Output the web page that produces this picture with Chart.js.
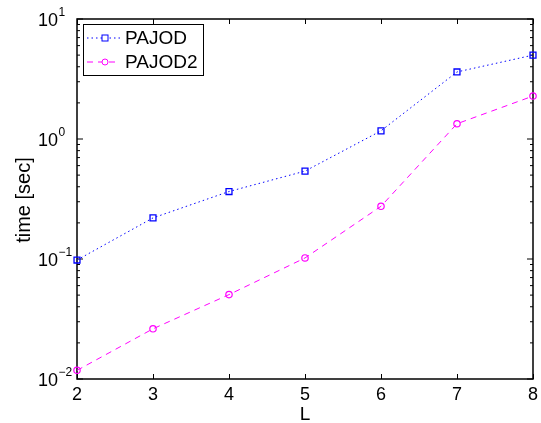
<!DOCTYPE html>
<html>
<head>
<meta charset="utf-8">
<script src="https://cdn.jsdelivr.net/npm/chart.js@4.4.1/dist/chart.umd.min.js"></script>
<style>
    body { margin: 0; background: #fff; }
    canvas { display: block; }
</style>
</head>
<body>
<canvas id="timeChart" width="541" height="423"></canvas>
<script>
// Data
const lValues = [2, 3, 4, 5, 6, 7, 8];
const pajodTimes = [0.098, 0.22, 0.365, 0.54, 1.17, 3.62, 5.0];
const pajod2Times = [0.0118, 0.0262, 0.0505, 0.102, 0.275, 1.34, 2.28];
const xTicks = [2, 3, 4, 5, 6, 7, 8];
const yTicks = [0.01, 0.1, 1, 10];
const yExponents = ['\u22122', '\u22121', '0', '1'];

const FONT = '"Liberation Sans", Arial, Helvetica, sans-serif';

// Box, inward ticks, tick labels and axis titles, MATLAB style
const axesPlugin = {
    id: 'matlabAxes',
    beforeDatasetsDraw(chart) {
        const ctx = chart.ctx;
        const a = chart.chartArea;
        const xs = chart.scales.x;
        const ys = chart.scales.y;
        ctx.save();
        ctx.strokeStyle = '#000';
        ctx.lineWidth = 1.5;
        ctx.strokeRect(a.left, a.top, a.right - a.left, a.bottom - a.top);

        ctx.lineWidth = 1;
        ctx.beginPath();
        xTicks.forEach(v => {
            const px = Math.round(xs.getPixelForValue(v)) + 0.5;
            ctx.moveTo(px, a.bottom); ctx.lineTo(px, a.bottom - 5);
            ctx.moveTo(px, a.top); ctx.lineTo(px, a.top + 5);
        });
        // major and minor ticks on the log axis
        for (let i = 0; i < yTicks.length; i++) {
            const py = ys.getPixelForValue(yTicks[i]);
            ctx.moveTo(a.left, py); ctx.lineTo(a.left + 6, py);
            ctx.moveTo(a.right, py); ctx.lineTo(a.right - 6, py);
            if (i < yTicks.length - 1) {
                for (let k = 2; k <= 9; k++) {
                    const pm = ys.getPixelForValue(yTicks[i] * k);
                    ctx.moveTo(a.left, pm); ctx.lineTo(a.left + 3, pm);
                    ctx.moveTo(a.right, pm); ctx.lineTo(a.right - 3, pm);
                }
            }
        }
        ctx.stroke();

        // tick labels
        ctx.fillStyle = '#000';
        ctx.font = '18px ' + FONT;
        ctx.textAlign = 'center';
        ctx.textBaseline = 'alphabetic';
        xTicks.forEach(v => {
            ctx.fillText(String(v), xs.getPixelForValue(v), a.bottom + 21);
        });
        yTicks.forEach((v, i) => {
            const py = ys.getPixelForValue(v);
            ctx.font = '18px ' + FONT;
            ctx.textAlign = 'left';
            ctx.fillText('10', 38, py + 7);
            ctx.font = '12px ' + FONT;
            ctx.fillText(yExponents[i], 58.5, py - 3);
        });

        // axis titles
        ctx.font = '19px ' + FONT;
        ctx.textAlign = 'center';
        ctx.fillText('L', (a.left + a.right) / 2, a.bottom + 41);
        ctx.save();
        ctx.translate(30, (a.top + a.bottom) / 2 + 1);
        ctx.rotate(-Math.PI / 2);
        ctx.font = '20px ' + FONT;
        ctx.fillText('time [sec]', 0, 0);
        ctx.restore();
        ctx.restore();
    },
    afterDatasetsDraw(chart) {
        // boxed legend in the upper left corner
        const ctx = chart.ctx;
        const bx = 83, by = 24, bw = 120, bh = 51;
        ctx.save();
        ctx.fillStyle = '#fff';
        ctx.fillRect(bx, by, bw, bh);
        ctx.strokeStyle = '#000';
        ctx.lineWidth = 1;
        ctx.strokeRect(bx + 0.5, by + 0.5, bw, bh);
        chart.data.datasets.forEach((ds, i) => {
            const cy = by + 14 + i * 24;
            ctx.strokeStyle = ds.borderColor;
            ctx.lineWidth = 1;
            ctx.setLineDash(ds.borderDash);
            ctx.beginPath();
            ctx.moveTo(87, cy); ctx.lineTo(120, cy);
            ctx.stroke();
            ctx.setLineDash([]);
            ctx.fillStyle = '#fff';
            if (ds.pointStyle === 'rect') {
                ctx.fillRect(102, cy - 3, 6, 6);
                ctx.strokeRect(102, cy - 3, 6, 6);
            } else {
                ctx.beginPath();
                ctx.arc(105, cy, 3, 0, Math.PI * 2);
                ctx.fill();
                ctx.stroke();
            }
            ctx.fillStyle = '#000';
            ctx.font = '19px ' + FONT;
            ctx.textAlign = 'left';
            ctx.textBaseline = 'middle';
            ctx.fillText(ds.label, 125, cy + 1);
        });
        ctx.restore();
    }
};

const ctx = document.getElementById('timeChart').getContext('2d');
new Chart(ctx, {
    type: 'line',
    data: {
        datasets: [
            {
                label: 'PAJOD',
                data: lValues.map((l, i) => ({ x: l, y: pajodTimes[i] })),
                borderColor: '#0000ff',
                borderWidth: 1,
                borderDash: [1.5, 3],
                pointStyle: 'rect',
                pointRadius: 4.2,
                pointBorderWidth: 1.3,
                pointBorderColor: '#0000ff',
                pointBackgroundColor: 'rgba(0,0,0,0)',
                clip: false,
                tension: 0
            },
            {
                label: 'PAJOD2',
                data: lValues.map((l, i) => ({ x: l, y: pajod2Times[i] })),
                borderColor: '#ff00ff',
                borderWidth: 1,
                borderDash: [6, 5],
                pointStyle: 'circle',
                pointRadius: 3.2,
                pointBorderWidth: 1.2,
                pointBorderColor: '#ff00ff',
                pointBackgroundColor: 'rgba(0,0,0,0)',
                clip: false,
                tension: 0
            }
        ]
    },
    options: {
        responsive: false,
        animation: false,
        layout: {
            padding: { left: 77, right: 8, top: 19, bottom: 44 }
        },
        plugins: {
            legend: { display: false },
            tooltip: { enabled: false }
        },
        scales: {
            x: { type: 'linear', min: 2, max: 8, display: false },
            y: { type: 'logarithmic', min: 0.01, max: 10, display: false }
        }
    },
    plugins: [axesPlugin]
});
</script>
</body>
</html>
